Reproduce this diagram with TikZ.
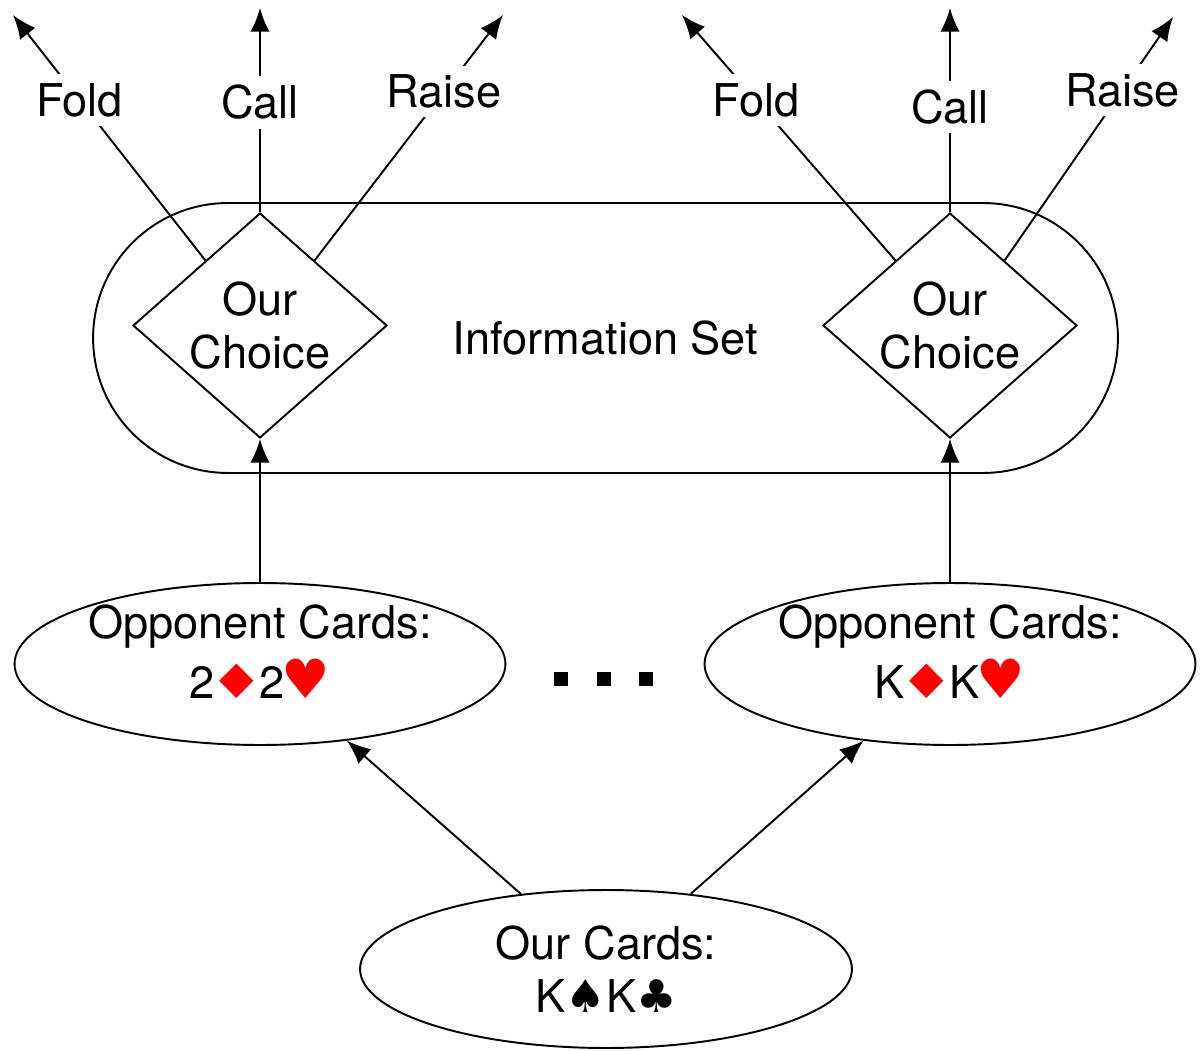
\documentclass[tikz,border=0pt]{standalone}
\usepackage{fontspec}
\setmainfont{TeX Gyre Heros}
\newfontfamily\suitfont{DejaVu Sans}
\usetikzlibrary{shapes.geometric,arrows.meta}
\newcommand{\rdiam}{\kern-3pt{\suitfont\color{red}\scalebox{1.35}[1.05]{♦}}\kern-3pt}
\newcommand{\rheart}{\kern-1.5pt{\suitfont\color{red}\scalebox{1.2}{♥}}}
\newcommand{\bspade}{{\suitfont ♠}}
\newcommand{\bclub}{{\suitfont ♣}}
\tikzset{
  every node/.style={font=\fontsize{25.7}{30}\selectfont},
  choice/.style={draw,diamond,aspect=1.13,inner sep=0pt,minimum width=5.08cm,minimum height=4.5cm,align=center},
  infoset/.style={draw,rectangle,rounded corners=2.7cm,minimum width=20.5cm,minimum height=5.4cm},
  cardset/.style={draw,ellipse,inner sep=0pt,align=center},
  act/.style={fill=white,inner sep=5pt},
}
\begin{document}
\begin{tikzpicture}[x=0.02cm,y=-0.02cm,line width=1.1pt,>={Latex[length=13.5pt,width=11pt]}]
\useasboundingbox (0,0) rectangle (1204,1051);
\node[infoset] (info) at (605.5,338) {Information Set};
\node[choice] (choiceL) at (260,325.5) {Our\\Choice};
\node[choice] (choiceR) at (950,325.5) {Our\\Choice};
\node[cardset,minimum width=9.82cm,minimum height=3.24cm,
  label={[align=center,yshift=7pt]center:{Opponent Cards:\\[4pt]2\rdiam2\rheart}}] (oppL) at (260,664) {};
\node[cardset,minimum width=9.82cm,minimum height=3.24cm,
  label={[align=center,yshift=7pt]center:{Opponent Cards:\\[4pt]K\rdiam K\rheart}}] (oppR) at (950,664) {};
\node[cardset,minimum width=9.84cm,minimum height=3.16cm] (ours) at (606,969) {Our Cards:\\K\bspade K\bclub};
\node[fill,minimum size=0.28cm,inner sep=0pt] (dot1) at (561,679) {};
\node[fill,minimum size=0.28cm,inner sep=0pt] (dot2) at (604,679) {};
\node[fill,minimum size=0.28cm,inner sep=0pt] (dot3) at (646,679) {};
% free ends of the actions
\coordinate (foldL) at (13,15);
\coordinate (callL) at (260,8);
\coordinate (raiseL) at (503,15);
\coordinate (foldR) at (682,15);
\coordinate (callR) at (950,8);
\coordinate (raiseR) at (1173,17);
\draw[->] (choiceL.130) -- (foldL) node[act,pos=0.654] {Fold};
\draw[->] (choiceL.north) -- (callL) node[act,pos=0.537] {Call};
\draw[->] (choiceL.50) -- (raiseL) node[act,pos=0.687] {Raise};
\draw[->] (choiceR.130) -- (foldR) node[act,pos=0.654] {Fold};
\draw[->] (choiceR.north) -- (callR) node[act,pos=0.517] {Call};
\draw[->] (choiceR.50) -- (raiseR) node[act,pos=0.70] {Raise};
\draw[->] (oppL) -- (choiceL);
\draw[->] (oppR) -- (choiceR);
\draw[->] (ours) -- (oppL);
\draw[->] (ours) -- (oppR);
\end{tikzpicture}
\end{document}
